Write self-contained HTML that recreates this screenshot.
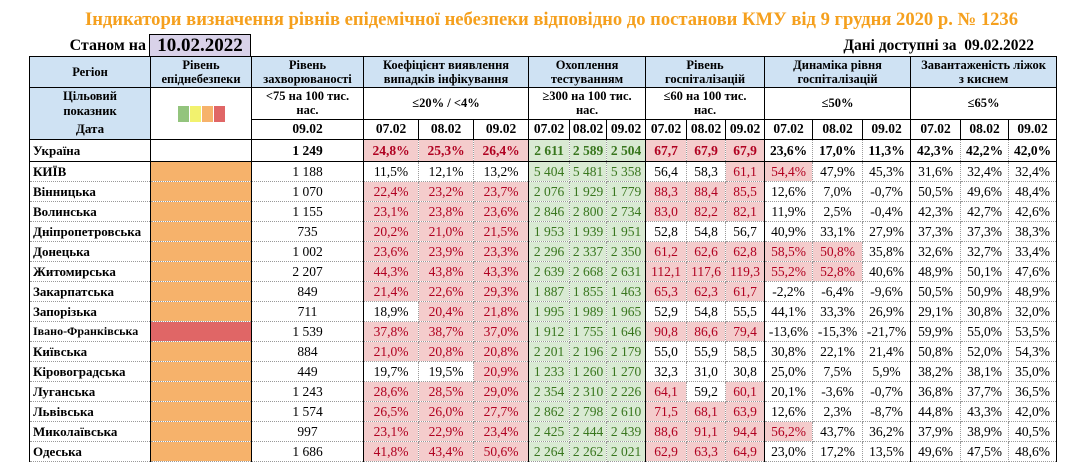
<!DOCTYPE html>
<html><head><meta charset="utf-8"><style>
body{margin:0;width:1079px;height:460px;overflow:hidden;background:#fff;font-family:"Liberation Serif",serif;position:relative}
.title{position:absolute;left:12px;width:1079px;top:9px;text-align:center;color:#f5a01e;font-weight:bold;font-size:18.6px}
.st{position:absolute;left:29px;width:117px;top:37px;text-align:right;font-weight:bold;font-size:16px}
.dbox{position:absolute;left:149px;width:100px;top:34px;height:21px;background:#d9d2e9;border:1.5px solid #000;border-bottom:none;text-align:center;font-weight:bold;font-size:19px;line-height:21px}
.avail{position:absolute;right:45px;top:37px;font-weight:bold;font-size:15.5px}
table{position:absolute;left:29px;top:56px;border-collapse:collapse;table-layout:fixed;width:1027px}
td{padding:0;text-align:center;font-size:13.5px;border:1px dotted #999;white-space:nowrap;overflow:hidden}
tr.b td{height:19px;line-height:19px}
tr.b.u td{height:21px;line-height:21px}
.h td{font-weight:bold;font-size:12.5px;line-height:14px}
.hb{background:#cfe2f3}
td.L{border-left:1.5px solid #000}
td.R{border-right:1.5px solid #000}
tr.top td{border-top:1.5px solid #000}
td.n{text-align:left;font-weight:bold;padding-left:3px;font-size:13px}
.p{background:#f4cccc;color:#b00020}
.g{background:#d9ead3;color:#38761d}
.o{background:#f6b26b}
.r{background:#e06666}
.u td{font-weight:bold}
.sq{display:inline-block;width:11px;height:16px;margin:0 0.5px;vertical-align:middle}
</style></head><body>
<div class="title">Індикатори визначення рівнів епідемічної небезпеки відповідно до постанови КМУ від 9 грудня 2020 р. № 1236</div>
<div class="st">Станом на</div>
<div class="dbox">10.02.2022</div>
<div class="avail">Дані доступні за&nbsp; 09.02.2022</div>
<table>
<colgroup><col style="width:121px"><col style="width:101px"><col style="width:112px"><col style="width:55px"><col style="width:55px"><col style="width:55px"><col style="width:41px"><col style="width:37px"><col style="width:39px"><col style="width:41px"><col style="width:39px"><col style="width:39px"><col style="width:48px"><col style="width:50px"><col style="width:48px"><col style="width:50px"><col style="width:48px"><col style="width:48px"></colgroup>
<tr class="h top"><td class="hb L R" style="height:30px;border-bottom:1.5px solid #000">Регіон</td><td class="hb R" style="border-bottom:1.5px solid #000">Рівень<br>епіднебезпеки</td><td class="hb R" style="border-bottom:1.5px solid #000">Рівень<br>захворюваності</td><td colspan="3" class="hb R" style="border-bottom:1.5px solid #000">Коефіцієнт виявлення<br>випадків інфікування</td><td colspan="3" class="hb R" style="border-bottom:1.5px solid #000">Охоплення<br>тестуванням</td><td colspan="3" class="hb R" style="border-bottom:1.5px solid #000">Рівень<br>госпіталізацій</td><td colspan="3" class="hb R" style="border-bottom:1.5px solid #000">Динаміка рівня<br>госпіталізацій</td><td colspan="3" class="hb R" style="border-bottom:1.5px solid #000">Завантаженість ліжок<br>з киснем</td></tr>
<tr class="h"><td class="hb L R" style="height:31px;border-bottom:none;vertical-align:bottom;line-height:15px">Цільовий<br>показник</td><td rowspan="2" class="R" style="border-bottom:1.5px solid #000"><span class="sq" style="background:#93c47d"></span><span class="sq" style="background:#f2f26e"></span><span class="sq" style="background:#f6b26b"></span><span class="sq" style="background:#e06666"></span></td><td class="R" style="border-bottom:1.5px solid #000">&lt;75 на 100 тис.<br>нас.</td><td colspan="3" class="R" style="border-bottom:1.5px solid #000">≤20% / &lt;4%</td><td colspan="3" class="R" style="border-bottom:1.5px solid #000">≥300 на 100 тис.<br>нас.</td><td colspan="3" class="R" style="border-bottom:1.5px solid #000">≤60 на 100 тис.<br>нас.</td><td colspan="3" class="R" style="border-bottom:1.5px solid #000">≤50%</td><td colspan="3" class="R" style="border-bottom:1.5px solid #000">≤65%</td></tr>
<tr class="h"><td class="hb L R" style="height:20px;border-top:none;border-bottom:1.5px solid #000;font-size:13px">Дата</td><td class="R" style="border-bottom:1.5px solid #000;font-size:13.5px">09.02</td>
<td style="border:1.5px solid #000;font-size:13.5px">07.02</td><td style="border:1.5px solid #000;font-size:13.5px">08.02</td><td class="R" style="border:1.5px solid #000;font-size:13.5px">09.02</td>
<td style="border:1.5px solid #000;font-size:13.5px">07.02</td><td style="border:1.5px solid #000;font-size:13.5px">08.02</td><td style="border:1.5px solid #000;font-size:13.5px">09.02</td>
<td style="border:1.5px solid #000;font-size:13.5px">07.02</td><td style="border:1.5px solid #000;font-size:13.5px">08.02</td><td style="border:1.5px solid #000;font-size:13.5px">09.02</td>
<td style="border:1.5px solid #000;font-size:13.5px">07.02</td><td style="border:1.5px solid #000;font-size:13.5px">08.02</td><td style="border:1.5px solid #000;font-size:13.5px">09.02</td>
<td style="border:1.5px solid #000;font-size:13.5px">07.02</td><td style="border:1.5px solid #000;font-size:13.5px">08.02</td><td style="border:1.5px solid #000;font-size:13.5px">09.02</td></tr>
<tr class="b u"><td class="n L R">Україна</td><td class="R"></td><td class="R">1 249</td><td class="p">24,8%</td><td class="p">25,3%</td><td class="p R">26,4%</td><td class="g">2 611</td><td class="g">2 589</td><td class="g R">2 504</td><td class="p">67,7</td><td class="p">67,9</td><td class="p R">67,9</td><td>23,6%</td><td>17,0%</td><td class="R">11,3%</td><td>42,3%</td><td>42,2%</td><td class="R">42,0%</td></tr>
<tr class="b top"><td class="n L R">КИЇВ</td><td class="o R"></td><td class="R">1 188</td><td>11,5%</td><td>12,1%</td><td class="R">13,2%</td><td class="g">5 404</td><td class="g">5 481</td><td class="g R">5 358</td><td>56,4</td><td>58,3</td><td class="p R">61,1</td><td class="p">54,4%</td><td>47,9%</td><td class="R">45,3%</td><td>31,6%</td><td>32,4%</td><td class="R">32,4%</td></tr>
<tr class="b"><td class="n L R">Вінницька</td><td class="o R"></td><td class="R">1 070</td><td class="p">22,4%</td><td class="p">23,2%</td><td class="p R">23,7%</td><td class="g">2 076</td><td class="g">1 929</td><td class="g R">1 779</td><td class="p">88,3</td><td class="p">88,4</td><td class="p R">85,5</td><td>12,6%</td><td>7,0%</td><td class="R">-0,7%</td><td>50,5%</td><td>49,6%</td><td class="R">48,4%</td></tr>
<tr class="b"><td class="n L R">Волинська</td><td class="o R"></td><td class="R">1 155</td><td class="p">23,1%</td><td class="p">23,8%</td><td class="p R">23,6%</td><td class="g">2 846</td><td class="g">2 800</td><td class="g R">2 734</td><td class="p">83,0</td><td class="p">82,2</td><td class="p R">82,1</td><td>11,9%</td><td>2,5%</td><td class="R">-0,4%</td><td>42,3%</td><td>42,7%</td><td class="R">42,6%</td></tr>
<tr class="b"><td class="n L R">Дніпропетровська</td><td class="o R"></td><td class="R">735</td><td class="p">20,2%</td><td class="p">21,0%</td><td class="p R">21,5%</td><td class="g">1 953</td><td class="g">1 939</td><td class="g R">1 951</td><td>52,8</td><td>54,8</td><td class="R">56,7</td><td>40,9%</td><td>33,1%</td><td class="R">27,9%</td><td>37,3%</td><td>37,3%</td><td class="R">38,3%</td></tr>
<tr class="b"><td class="n L R">Донецька</td><td class="o R"></td><td class="R">1 002</td><td class="p">23,6%</td><td class="p">23,9%</td><td class="p R">23,3%</td><td class="g">2 296</td><td class="g">2 337</td><td class="g R">2 350</td><td class="p">61,2</td><td class="p">62,6</td><td class="p R">62,8</td><td class="p">58,5%</td><td class="p">50,8%</td><td class="R">35,8%</td><td>32,6%</td><td>32,7%</td><td class="R">33,4%</td></tr>
<tr class="b"><td class="n L R">Житомирська</td><td class="o R"></td><td class="R">2 207</td><td class="p">44,3%</td><td class="p">43,8%</td><td class="p R">43,3%</td><td class="g">2 639</td><td class="g">2 668</td><td class="g R">2 631</td><td class="p">112,1</td><td class="p">117,6</td><td class="p R">119,3</td><td class="p">55,2%</td><td class="p">52,8%</td><td class="R">40,6%</td><td>48,9%</td><td>50,1%</td><td class="R">47,6%</td></tr>
<tr class="b"><td class="n L R">Закарпатська</td><td class="o R"></td><td class="R">849</td><td class="p">21,4%</td><td class="p">22,6%</td><td class="p R">29,3%</td><td class="g">1 887</td><td class="g">1 855</td><td class="g R">1 463</td><td class="p">65,3</td><td class="p">62,3</td><td class="p R">61,7</td><td>-2,2%</td><td>-6,4%</td><td class="R">-9,6%</td><td>50,5%</td><td>50,9%</td><td class="R">48,9%</td></tr>
<tr class="b"><td class="n L R">Запорізька</td><td class="o R"></td><td class="R">711</td><td>18,9%</td><td class="p">20,4%</td><td class="p R">21,8%</td><td class="g">1 995</td><td class="g">1 989</td><td class="g R">1 965</td><td>52,9</td><td>54,8</td><td class="R">55,5</td><td>44,1%</td><td>33,3%</td><td class="R">26,9%</td><td>29,1%</td><td>30,8%</td><td class="R">32,0%</td></tr>
<tr class="b"><td class="n L R" style="font-size:12px">Івано-Франківська</td><td class="r R"></td><td class="R">1 539</td><td class="p">37,8%</td><td class="p">38,7%</td><td class="p R">37,0%</td><td class="g">1 912</td><td class="g">1 755</td><td class="g R">1 646</td><td class="p">90,8</td><td class="p">86,6</td><td class="p R">79,4</td><td>-13,6%</td><td>-15,3%</td><td class="R">-21,7%</td><td>59,9%</td><td>55,0%</td><td class="R">53,5%</td></tr>
<tr class="b"><td class="n L R">Київська</td><td class="o R"></td><td class="R">884</td><td class="p">21,0%</td><td class="p">20,8%</td><td class="p R">20,8%</td><td class="g">2 201</td><td class="g">2 196</td><td class="g R">2 179</td><td>55,0</td><td>55,9</td><td class="R">58,5</td><td>30,8%</td><td>22,1%</td><td class="R">21,4%</td><td>50,8%</td><td>52,0%</td><td class="R">54,3%</td></tr>
<tr class="b"><td class="n L R">Кіровоградська</td><td class="o R"></td><td class="R">449</td><td>19,7%</td><td>19,5%</td><td class="p R">20,9%</td><td class="g">1 233</td><td class="g">1 260</td><td class="g R">1 270</td><td>32,3</td><td>31,0</td><td class="R">30,8</td><td>25,0%</td><td>7,5%</td><td class="R">5,9%</td><td>38,2%</td><td>38,1%</td><td class="R">35,0%</td></tr>
<tr class="b"><td class="n L R">Луганська</td><td class="o R"></td><td class="R">1 243</td><td class="p">28,6%</td><td class="p">28,5%</td><td class="p R">29,0%</td><td class="g">2 354</td><td class="g">2 310</td><td class="g R">2 226</td><td class="p">64,1</td><td>59,2</td><td class="p R">60,1</td><td>20,1%</td><td>-3,6%</td><td class="R">-0,7%</td><td>36,8%</td><td>37,7%</td><td class="R">36,5%</td></tr>
<tr class="b"><td class="n L R">Львівська</td><td class="o R"></td><td class="R">1 574</td><td class="p">26,5%</td><td class="p">26,0%</td><td class="p R">27,7%</td><td class="g">2 862</td><td class="g">2 798</td><td class="g R">2 610</td><td class="p">71,5</td><td class="p">68,1</td><td class="p R">63,9</td><td>12,6%</td><td>2,3%</td><td class="R">-8,7%</td><td>44,8%</td><td>43,3%</td><td class="R">42,0%</td></tr>
<tr class="b"><td class="n L R">Миколаївська</td><td class="o R"></td><td class="R">997</td><td class="p">23,1%</td><td class="p">22,9%</td><td class="p R">23,4%</td><td class="g">2 425</td><td class="g">2 444</td><td class="g R">2 439</td><td class="p">88,6</td><td class="p">91,1</td><td class="p R">94,4</td><td class="p">56,2%</td><td>43,7%</td><td class="R">36,2%</td><td>37,9%</td><td>38,9%</td><td class="R">40,5%</td></tr>
<tr class="b"><td class="n L R">Одеська</td><td class="o R"></td><td class="R">1 686</td><td class="p">41,8%</td><td class="p">43,4%</td><td class="p R">50,6%</td><td class="g">2 264</td><td class="g">2 262</td><td class="g R">2 021</td><td class="p">62,9</td><td class="p">63,3</td><td class="p R">64,9</td><td>23,0%</td><td>17,2%</td><td class="R">13,5%</td><td>49,6%</td><td>47,5%</td><td class="R">48,6%</td></tr>
</table>
</body></html>
